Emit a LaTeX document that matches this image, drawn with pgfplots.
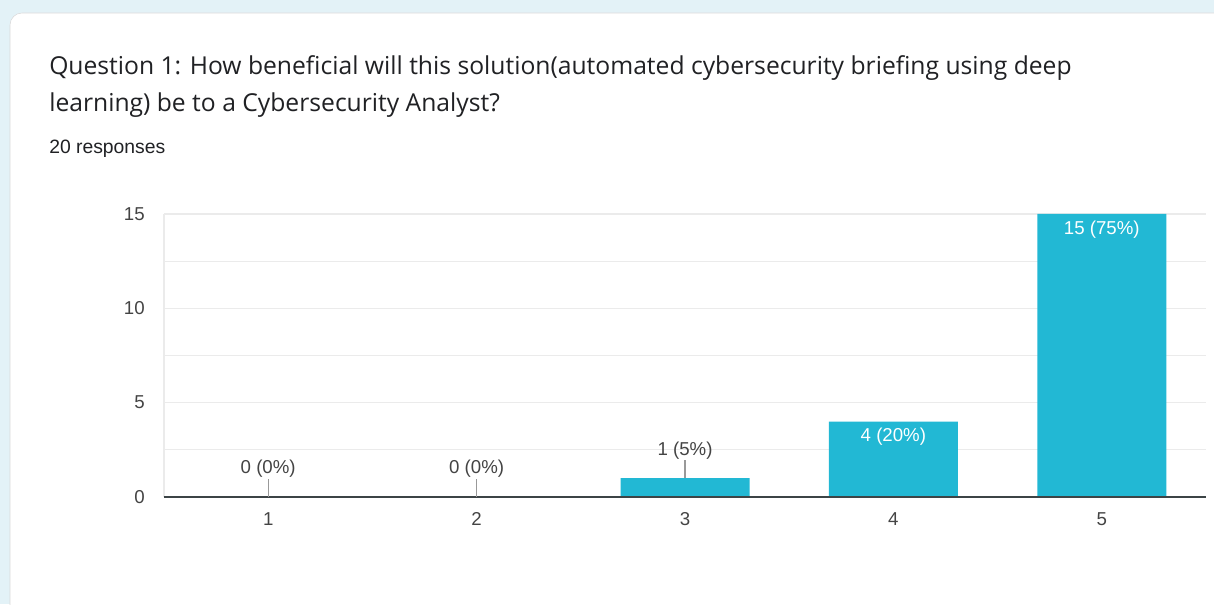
\documentclass[border=0pt]{standalone}
\usepackage{pgfplots}
\pgfplotsset{compat=1.18}
\usepackage{fontspec}
\setmainfont{Liberation Sans}
\newfontfamily\titlefont{Open Sans}
\definecolor{barc}{RGB}{34,184,212}
\definecolor{bgc}{RGB}{227,242,247}
\definecolor{txt}{RGB}{32,33,36}
\definecolor{tickc}{RGB}{68,68,68}
\definecolor{gridc}{RGB}{235,235,235}
\definecolor{axc}{RGB}{60,68,70}
\definecolor{leadc}{RGB}{153,153,153}
\begin{document}
\begin{tikzpicture}[x=0.75pt,y=0.75pt]
\path[use as bounding box] (0,0) rectangle (1214,604);
\begin{scope}
\clip (0,0) rectangle (1214,604);
\fill[bgc] (0,0) rectangle (1214,604);
\filldraw[fill=white, draw=black!15, rounded corners=9pt] (10,-30) rectangle (1250,591);
\end{scope}
\node[anchor=base west, inner sep=0, text=txt, font=\titlefont\fontsize{18.5}{22}\selectfont] at (49,529) {Question 1: How beneficial will this solution(automated cybersecurity briefing using deep};
\node[anchor=base west, inner sep=0, text=txt, font=\titlefont\fontsize{18.5}{22}\selectfont] at (49,492) {learning) be to a Cybersecurity Analyst?};
\node[anchor=base west, inner sep=0, text=txt, font=\fontsize{14.5}{17}\selectfont] at (49,450) {20 responses};
\begin{axis}[
  at={(123pt,80.25pt)}, anchor=south west,
  scale only axis, width=781.5pt, height=212.25pt,
  xmin=0.5, xmax=5.5, ymin=0, ymax=15,
  axis line style={draw=none},
  xtick={1,2,3,4,5},
  ytick={0,5,10,15},
  minor ytick={2.5,7.5,12.5},
  ymajorgrids, yminorgrids,
  major grid style={gridc, line width=0.8pt},
  minor grid style={gridc, line width=0.8pt},
  major tick length=0pt, minor tick length=0pt,
  tick style={draw=none},
  /pgf/number format/assume math mode=true,
  tick label style={font=\fontsize{14}{16}\selectfont, text=tickc},
  yticklabel style={inner sep=0pt, anchor=east, xshift=-14.25pt},
  xticklabel style={inner sep=0pt, anchor=north, yshift=-11.25pt},
  clip=false,
]
\addplot[ybar, bar width=96.75pt, bar shift=0pt, fill=barc, draw=none]
  coordinates {(1,0) (2,0) (3,1) (4,4) (5,15)};
\draw[gridc, line width=0.8pt] (rel axis cs:0,0) -- (rel axis cs:0,1);
\draw[axc, line width=0.9pt] (rel axis cs:0,0) -- (rel axis cs:1,0);
\draw[leadc, line width=0.8pt] (axis cs:1,0) -- ([yshift=13.5pt]axis cs:1,0);
\draw[leadc, line width=0.8pt] (axis cs:2,0) -- ([yshift=13.5pt]axis cs:2,0);
\draw[leadc, line width=0.8pt] (axis cs:3,1) -- ([yshift=13.5pt]axis cs:3,1);
\node[anchor=base, inner sep=0, text=tickc, font=\fontsize{14}{16}\selectfont, yshift=17.25pt] at (axis cs:1,0) {0 (0\%)};
\node[anchor=base, inner sep=0, text=tickc, font=\fontsize{14}{16}\selectfont, yshift=17.25pt] at (axis cs:2,0) {0 (0\%)};
\node[anchor=base, inner sep=0, text=tickc, font=\fontsize{14}{16}\selectfont, yshift=17.25pt] at (axis cs:3,1) {1 (5\%)};
\node[anchor=north, inner sep=0, text=white, font=\fontsize{14}{16}\selectfont, yshift=-5pt] at (axis cs:4,4) {4 (20\%)};
\node[anchor=north, inner sep=0, text=white, font=\fontsize{14}{16}\selectfont, yshift=-5pt] at (axis cs:5,15) {15 (75\%)};
\end{axis}
\end{tikzpicture}
\end{document}
